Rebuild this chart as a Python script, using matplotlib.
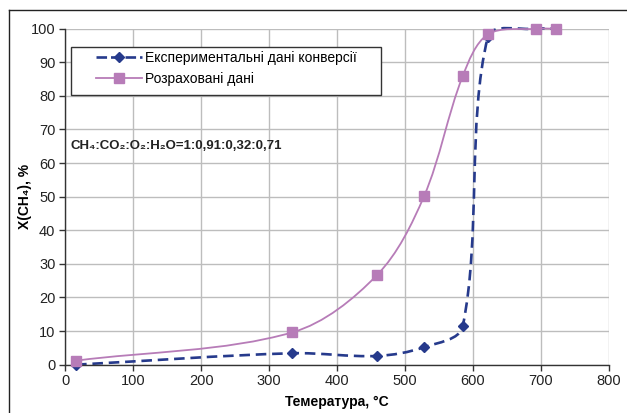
import numpy as np
import matplotlib
matplotlib.use("Agg")
import matplotlib.pyplot as plt
from matplotlib.path import Path
from matplotlib.patches import PathPatch, Rectangle
from matplotlib.lines import Line2D

plt.rcParams['font.family'] = ['Liberation Sans', 'DejaVu Sans']

# data
temp = [16, 334, 459, 528, 585, 622, 693, 723]
x_exp = [0.0, 3.4, 2.6, 5.2, 11.4, 97.6, 100.0, 100.0]
x_calc = [1.2, 9.6, 26.7, 50.1, 85.9, 98.3, 100.0, 100.0]
labels = ['Експериментальні дані конверсії', 'Розраховані дані']

blue = '#263a8c'
purple = '#b77cb8'


def smooth_path(ax, xs, ys):
    # Excel-like smoothed line: cubic Bezier segments built in display space
    pts = ax.transData.transform(np.column_stack([xs, ys]))
    n = len(pts)
    verts = [pts[0]]
    codes = [Path.MOVETO]
    for i in range(n - 1):
        p0 = pts[i - 1] if i > 0 else pts[i]
        p1 = pts[i]
        p2 = pts[i + 1]
        p3 = pts[i + 2] if i + 2 < n else pts[i + 1]
        d01 = np.hypot(*(p1 - p0))
        d12 = np.hypot(*(p2 - p1))
        d23 = np.hypot(*(p3 - p2))
        c1 = p1 + (p2 - p0) * d12 / (d01 + d12) / 3
        c2 = p2 - (p3 - p1) * d12 / (d12 + d23) / 3
        verts += [c1, c2, p2]
        codes += [Path.CURVE4] * 3
    verts = ax.transData.inverted().transform(np.array(verts))
    return Path(verts, codes)


fig = plt.figure(figsize=(6.27, 4.13), dpi=100)
ax = fig.add_axes([0.104, 0.117, 0.867, 0.8135])
ax.set_xlim(0, 800)
ax.set_ylim(0, 100)
ax.set_xticks(range(0, 801, 100))
ax.set_yticks(range(0, 101, 10))
ax.grid(True, color='#bdbdbd', lw=1.0)
ax.set_axisbelow(True)
for s in ['top', 'right']:
    ax.spines[s].set_visible(False)
for s in ['left', 'bottom']:
    ax.spines[s].set_color('#333333')
    ax.spines[s].set_linewidth(1.0)
ax.tick_params(direction='out', length=4, width=1, color='#333333',
               labelsize=10.5, labelcolor='#222222', pad=3)

ax.add_patch(PathPatch(smooth_path(ax, temp, x_exp), fill=False, edgecolor=blue,
                       lw=1.9, linestyle=(0, (4, 2.2)), capstyle='butt', clip_on=False))
ax.plot(temp, x_exp, 'D', color=blue, ms=5.5, zorder=3, clip_on=False)
ax.add_patch(PathPatch(smooth_path(ax, temp, x_calc), fill=False, edgecolor=purple,
                       lw=1.3, zorder=3, clip_on=False))
ax.plot(temp, x_calc, 's', color=purple, ms=7.5, zorder=4, clip_on=False)

# legend frame drawn separately so the handles can sit further in
ax.add_patch(Rectangle((0.011, 0.8026), 0.57, 0.143, transform=ax.transAxes,
                       facecolor='white', edgecolor='#333333', lw=1.0, zorder=5))
handles = [Line2D([], [], color=blue, lw=1.9, ls=(0, (4, 1.5)), marker='D', ms=5.5),
           Line2D([], [], color=purple, lw=1.3, marker='s', ms=7.5)]
leg = ax.legend(handles, labels, loc='upper left', bbox_to_anchor=(0.057, 0.933),
                borderaxespad=0, borderpad=0, fontsize=10, handlelength=3.3,
                handletextpad=0.25, frameon=False, labelspacing=0.5)
leg.set_zorder(6)

ax.text(8, 65, 'CH₄:CO₂:O₂:H₂O=1:0,91:0,32:0,71', fontsize=9.5,
        fontweight='bold', va='center', color='#222222')

ax.set_xlabel('Темература, °C', fontsize=10, fontweight='bold', labelpad=5)
ax.set_ylabel('X(CH₄), %', fontsize=10, fontweight='bold', labelpad=-1)

# chart area border (left and top edges visible)
fig.add_artist(Line2D([9 / 627, 9 / 627], [0, 1 - 10 / 413],
                      transform=fig.transFigure, color='#222222', lw=1))
fig.add_artist(Line2D([9 / 627, 1], [1 - 10 / 413, 1 - 10 / 413],
                      transform=fig.transFigure, color='#222222', lw=1))

fig.savefig('out.png', dpi=100)
